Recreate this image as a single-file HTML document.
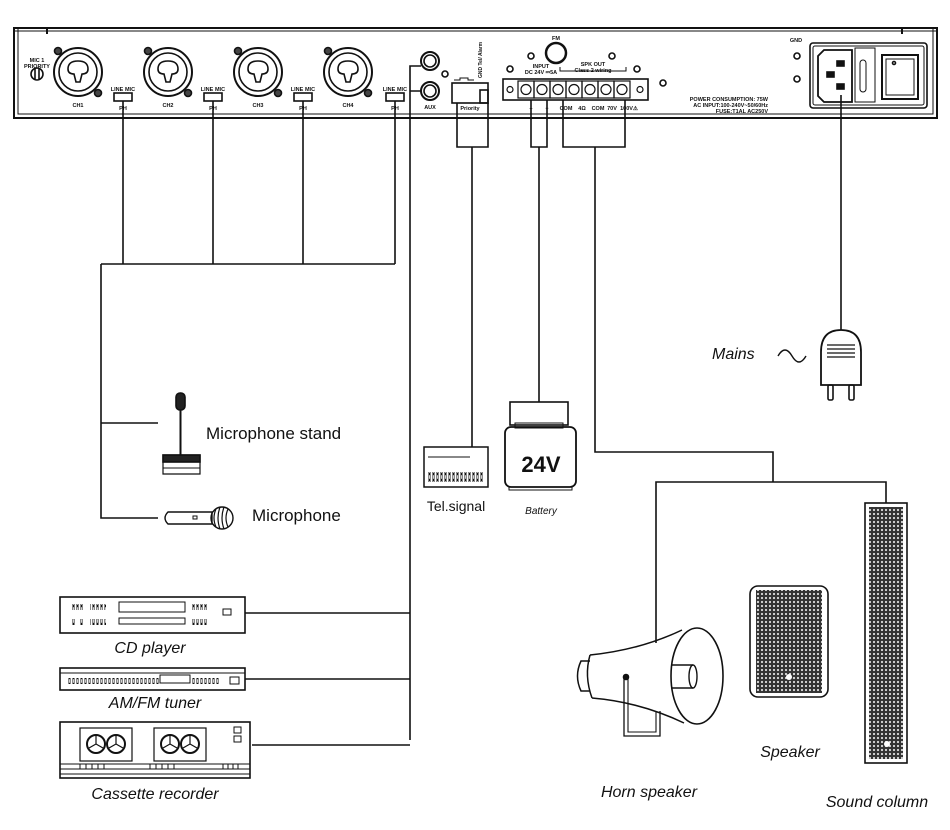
<!DOCTYPE html>
<html><head><meta charset="utf-8"><style>
html,body{margin:0;padding:0;background:#fff;width:950px;height:830px;overflow:hidden}
svg{display:block}
text{font-family:"Liberation Sans",sans-serif;fill:#111}
.b{font-weight:bold}
.i{font-style:italic}
</style></head><body>
<svg width="950" height="830" viewBox="0 0 950 830" xmlns="http://www.w3.org/2000/svg">
<defs>
<pattern id="grill" width="4" height="4" patternUnits="userSpaceOnUse">
<rect width="4" height="4" fill="#333"/><circle cx="2" cy="2" r="1.1" fill="#ddd"/>
</pattern>
<pattern id="ind" width="4" height="6" patternUnits="userSpaceOnUse">
<rect x="0.5" y="0" width="2" height="6" fill="#111"/><rect x="1.1" y="1.2" width="0.8" height="3.6" fill="#fff"/>
</pattern>
</defs>
<g fill="none" stroke="#111" stroke-width="1.6">
<!-- panel -->
<path d="M14 118 V28 H937 V118 Z" stroke-width="2"/>
<path d="M18 28 V114 H933 V28" stroke-width="1"/>
<path d="M47 28 V34 M902 28 V34" stroke-width="2"/>
<line x1="14" y1="31" x2="937" y2="31" stroke-width="1"/>
<circle cx="37" cy="74" r="6"/><line x1="35" y1="69" x2="35" y2="79"/><line x1="39" y1="69" x2="39" y2="79"/>
<g id="xlr">
<circle cx="78" cy="72" r="24" stroke-width="2"/>
<circle cx="78" cy="72" r="19"/>
<path d="M68 69 q0 -8 10 -8 q10 0 10 8 q0 5 -6 5 l-2 8 h-4 l-2 -8 q-6 0 -6 -5z"/>
<circle cx="58" cy="51" r="3.5" fill="#444"/>
<circle cx="98" cy="93" r="3.5" fill="#444"/>
</g>
<use href="#xlr" x="90"/><use href="#xlr" x="180"/><use href="#xlr" x="270"/>
<rect x="114" y="93" width="18" height="8"/>
<rect x="204" y="93" width="18" height="8"/>
<rect x="294" y="93" width="18" height="8"/>
<rect x="386" y="93" width="18" height="8"/>
<circle cx="430" cy="61" r="9" stroke-width="2"/><circle cx="430" cy="61" r="6"/>
<circle cx="430" cy="91" r="9" stroke-width="2"/><circle cx="430" cy="91" r="6"/>
<circle cx="445" cy="74" r="3"/>
<rect x="452" y="83" width="36" height="20"/><rect x="480" y="90" width="8" height="13"/>
<path d="M454 80 h6 v-2 h8 v2 h6" stroke-width="1"/>
<circle cx="556" cy="53" r="10" stroke-width="2.5"/>
<circle cx="531" cy="56" r="3"/><circle cx="612" cy="56" r="3"/><circle cx="510" cy="69" r="3"/><circle cx="637" cy="69" r="3"/>
<circle cx="663" cy="83" r="3"/>
<rect x="503" y="79" width="145" height="21"/>
<path d="M560 67 V71 H626 V67" stroke-width="1"/>
<g stroke-width="1.2">
<rect x="518" y="81" width="16" height="17"/><circle cx="526" cy="89.5" r="5"/>
<rect x="534" y="81" width="16" height="17"/><circle cx="542" cy="89.5" r="5"/>
<rect x="550" y="81" width="16" height="17"/><circle cx="558" cy="89.5" r="5"/>
<rect x="566" y="81" width="16" height="17"/><circle cx="574" cy="89.5" r="5"/>
<rect x="582" y="81" width="16" height="17"/><circle cx="590" cy="89.5" r="5"/>
<rect x="598" y="81" width="16" height="17"/><circle cx="606" cy="89.5" r="5"/>
<rect x="614" y="81" width="16" height="17"/><circle cx="622" cy="89.5" r="5"/>
<circle cx="510" cy="89.5" r="3"/><circle cx="640" cy="89.5" r="3"/>
</g>
<circle cx="797" cy="56" r="3"/><circle cx="797" cy="79" r="3"/>
<rect x="810" y="43" width="117" height="65" rx="3"/>
<rect x="813" y="46" width="111" height="59" rx="2" stroke-width="1"/>
<path d="M824 50 H852 V102 H824 L818 96 V56 Z" stroke-width="1.8"/>
<rect x="837" y="61" width="7" height="5" fill="#111"/><rect x="827" y="72" width="7" height="5" fill="#111"/><rect x="837" y="84" width="7" height="5" fill="#111"/>
<rect x="855" y="48" width="20" height="54" stroke-width="1"/>
<rect x="860" y="60" width="6" height="32" rx="3" stroke-width="1"/>
<rect x="882" y="55" width="36" height="44" stroke-width="2"/>
<rect x="886" y="59" width="28" height="36" stroke-width="1"/>
<circle cx="894" cy="63" r="1.5"/>

<!-- connectors -->
<path d="M123 101 V264 M213 101 V264 M303 101 V264 M395 101 V264 M101 264 H395 M101 264 V518 H158 M101 423 H158"/>
<path d="M410 740 V66 H421 M410 91 H421 M245 613 H410 M245 679 H410 M252 745 H410"/>
<path d="M457 103 V147 H488 V103 M472 147 V447"/>
<path d="M531 100 V147 H547 V100 M539 147 V402"/>
<path d="M563 100 V147 H625 V100 M595 147 V452 H773 V482 M656 643 V482 H886 V503"/>
<path d="M841 95 V330"/>

<!-- Mic stand -->
<rect x="176" y="393" width="9" height="17" rx="4" fill="#222"/>
<line x1="180.5" y1="410" x2="180.5" y2="455" stroke-width="2"/>
<path d="M163 455 H200 V474 H163 Z" stroke-width="1.2"/>
<rect x="163" y="455" width="37" height="7" fill="#222"/>
<line x1="163" y1="468" x2="200" y2="468" stroke-width="1"/>
<!-- Microphone -->
<path d="M168 512 H212 L212 524 H168 Q162 518 168 512 Z" stroke-width="1.4"/>
<rect x="193" y="516" width="4" height="3" stroke-width="1"/>
<circle cx="222" cy="518" r="11" stroke-width="1.4"/>
<path d="M216 509 q-4 9 0 18 M220 507 q-4 11 0 22 M224 507 q-4 11 0 22 M228 509 q-4 9 0 18" stroke-width="1.2"/>

<!-- CD player -->
<rect x="60" y="597" width="185" height="36" stroke-width="1.6"/>
<g stroke-width="1">
<rect x="119" y="602" width="66" height="10"/><rect x="119" y="618" width="66" height="6"/>
<rect x="223" y="609" width="8" height="6"/>
</g>
<rect x="71" y="604" width="8" height="6" fill="url(#ind)" stroke="none"/><rect x="79" y="604" width="4" height="6" fill="url(#ind)" stroke="none"/>
<rect x="90" y="604" width="16" height="6" fill="url(#ind)" stroke="none"/>
<rect x="71" y="619" width="4" height="6" fill="url(#ind)" stroke="none"/><rect x="79" y="619" width="4" height="6" fill="url(#ind)" stroke="none"/>
<rect x="90" y="619" width="16" height="6" fill="url(#ind)" stroke="none"/>
<rect x="192" y="604" width="16" height="6" fill="url(#ind)" stroke="none"/>
<rect x="192" y="619" width="16" height="6" fill="url(#ind)" stroke="none"/>
<!-- tuner -->
<rect x="60" y="668" width="185" height="22"/>
<line x1="60" y1="673" x2="245" y2="673" stroke-width="1"/>
<rect x="160" y="675" width="30" height="8" stroke-width="1"/>
<rect x="230" y="677" width="9" height="7" stroke-width="1"/>
<rect x="67" y="678" width="93" height="6" fill="url(#ind)" stroke="none"/>
<rect x="191" y="678" width="28" height="6" fill="url(#ind)" stroke="none"/>
<!-- cassette -->
<rect x="60" y="722" width="190" height="56"/>
<path d="M60 764 H250 M60 769 H250 M60 774 H250" stroke-width="1"/>
<path d="M80 764 V769 M86 764 V769 M92 764 V769 M98 764 V769 M104 764 V769 M150 764 V769 M156 764 V769 M162 764 V769 M168 764 V769 M174 764 V769 M223 764 V769 M228 764 V769 M233 764 V769 M238 764 V769" stroke-width="1"/>
<rect x="80" y="728" width="52" height="33" stroke-width="1.2"/>
<rect x="154" y="728" width="52" height="33" stroke-width="1.2"/>
<circle cx="96" cy="744" r="9" stroke-width="2"/><circle cx="116" cy="744" r="9" stroke-width="2"/>
<circle cx="170" cy="744" r="9" stroke-width="2"/><circle cx="190" cy="744" r="9" stroke-width="2"/>
<path d="M96 744 L96 736 M96 744 L89 748 M96 744 L103 748 M116 744 L116 736 M116 744 L109 748 M116 744 L123 748 M170 744 L170 736 M170 744 L163 748 M170 744 L177 748 M190 744 L190 736 M190 744 L183 748 M190 744 L197 748" stroke-width="1.2"/>
<rect x="234" y="727" width="7" height="6" stroke-width="1"/><rect x="234" y="736" width="7" height="6" stroke-width="1"/>

<!-- Tel signal -->
<rect x="424" y="447" width="64" height="40" stroke-width="1.5"/>
<line x1="428" y1="457" x2="470" y2="457" stroke-width="1"/>
<rect x="428" y="472" width="56" height="10" fill="url(#ind)" stroke="none"/>
<!-- Battery -->
<rect x="510" y="402" width="58" height="23"/>
<rect x="515" y="423" width="48" height="5" stroke-width="1"/>
<rect x="505" y="427" width="71" height="60" rx="6" stroke-width="1.8"/>
<rect x="509" y="487" width="63" height="3" stroke-width="1"/>

<!-- Mains plug -->
<path d="M821 385 V352 Q821 330 841 330 Q861 330 861 352 V385 Z" stroke-width="1.8"/>
<path d="M827 345 H855 M827 349 H855 M827 353 H855 M827 357 H855" stroke-width="1.2"/>
<rect x="828" y="385" width="5" height="15" rx="1.5"/><rect x="849" y="385" width="5" height="15" rx="1.5"/>
<path d="M778 356 q7 -12 14 0 q7 12 14 0" stroke-width="1.4"/>

<!-- Horn -->
<path d="M590 655 Q640 650 682 630 M592 698 Q640 702 684 723" stroke-width="1.5"/>
<path d="M590 655 Q584 676 592 698" stroke-width="1.5"/>
<path d="M590 661 H581 Q574 676 581 691 H590" stroke-width="1.5"/>
<ellipse cx="697" cy="676" rx="26" ry="48" stroke-width="1.6"/>
<path d="M671 665 H693 M671 688 H693" stroke-width="1.4"/>
<ellipse cx="693" cy="676.5" rx="4" ry="11.5" stroke-width="1.4"/>
<path d="M624 676 V736 H660 V711" stroke-width="1.3"/>
<path d="M628 676 V732 H656 V712" stroke-width="1.1"/>
<circle cx="626" cy="677" r="2.5" fill="#111"/>
<!-- Speaker -->
<rect x="750" y="586" width="78" height="111" rx="8" stroke-width="1.6"/>
<rect x="756" y="590" width="66" height="103" fill="url(#grill)" stroke="none"/>
<circle cx="789" cy="677" r="3" fill="#fff" stroke="none"/>
<!-- Sound column -->
<rect x="865" y="503" width="42" height="260" stroke-width="1.6"/>
<rect x="869" y="507" width="34" height="252" fill="url(#grill)" stroke="none"/>
<circle cx="887" cy="744" r="3" fill="#fff" stroke="none"/>
</g>

<g class="b" font-size="5.5" text-anchor="middle">
<text x="37" y="62">MIC 1</text><text x="37" y="68">PRIORITY</text>
<text x="78" y="107">CH1</text><text x="168" y="107">CH2</text><text x="258" y="107">CH3</text><text x="348" y="107">CH4</text>
<text x="117" y="91">LINE</text><text x="130" y="91">MIC</text>
<text x="207" y="91">LINE</text><text x="220" y="91">MIC</text>
<text x="297" y="91">LINE</text><text x="310" y="91">MIC</text>
<text x="389" y="91">LINE</text><text x="402" y="91">MIC</text>
<text x="123" y="110">PH</text><text x="213" y="110">PH</text><text x="303" y="110">PH</text><text x="395" y="110">PH</text>
<text x="430" y="109">AUX</text>
<text x="470" y="110">Priority</text>
<text x="556" y="40">FM</text>
<text x="541" y="68">INPUT</text><text x="541" y="74">DC 24V ⎓5A</text>
<text x="593" y="66">SPK OUT</text><text x="593" y="72">Class 2 wiring</text>
<text x="531" y="110">+</text><text x="547" y="110">−</text>
<text x="566" y="110">COM</text><text x="582" y="110">4Ω</text><text x="598" y="110">COM</text><text x="612" y="110">70V</text><text x="629" y="110">100V⚠</text>
<text x="796" y="42">GND</text>
</g>
<g class="b" font-size="5.5" text-anchor="end">
<text x="768" y="101">POWER CONSUMPTION: 75W</text>
<text x="768" y="107">AC INPUT:100-240V~50/60Hz</text>
<text x="768" y="113">FUSE:T1AL AC250V</text>
</g>
<text class="b" font-size="5" transform="translate(482,78) rotate(-90)">GND Tel/ Alarm</text>

<text x="206" y="439" font-size="17">Microphone stand</text>
<text x="252" y="521" font-size="17">Microphone</text>
<text x="456" y="511" font-size="14" text-anchor="middle">Tel.signal</text>
<text x="541" y="514" font-size="10" class="i" text-anchor="middle">Battery</text>
<text x="541" y="472" font-size="22" class="b" text-anchor="middle">24V</text>
<text x="712" y="359" font-size="16" class="i">Mains</text>
<text x="150" y="653" font-size="16" class="i" text-anchor="middle">CD player</text>
<text x="155" y="708" font-size="16" class="i" text-anchor="middle">AM/FM tuner</text>
<text x="155" y="799" font-size="16" class="i" text-anchor="middle">Cassette recorder</text>
<text x="649" y="797" font-size="16" class="i" text-anchor="middle">Horn speaker</text>
<text x="790" y="757" font-size="16" class="i" text-anchor="middle">Speaker</text>
<text x="877" y="807" font-size="16" class="i" text-anchor="middle">Sound column</text>
</svg>
</body></html>
